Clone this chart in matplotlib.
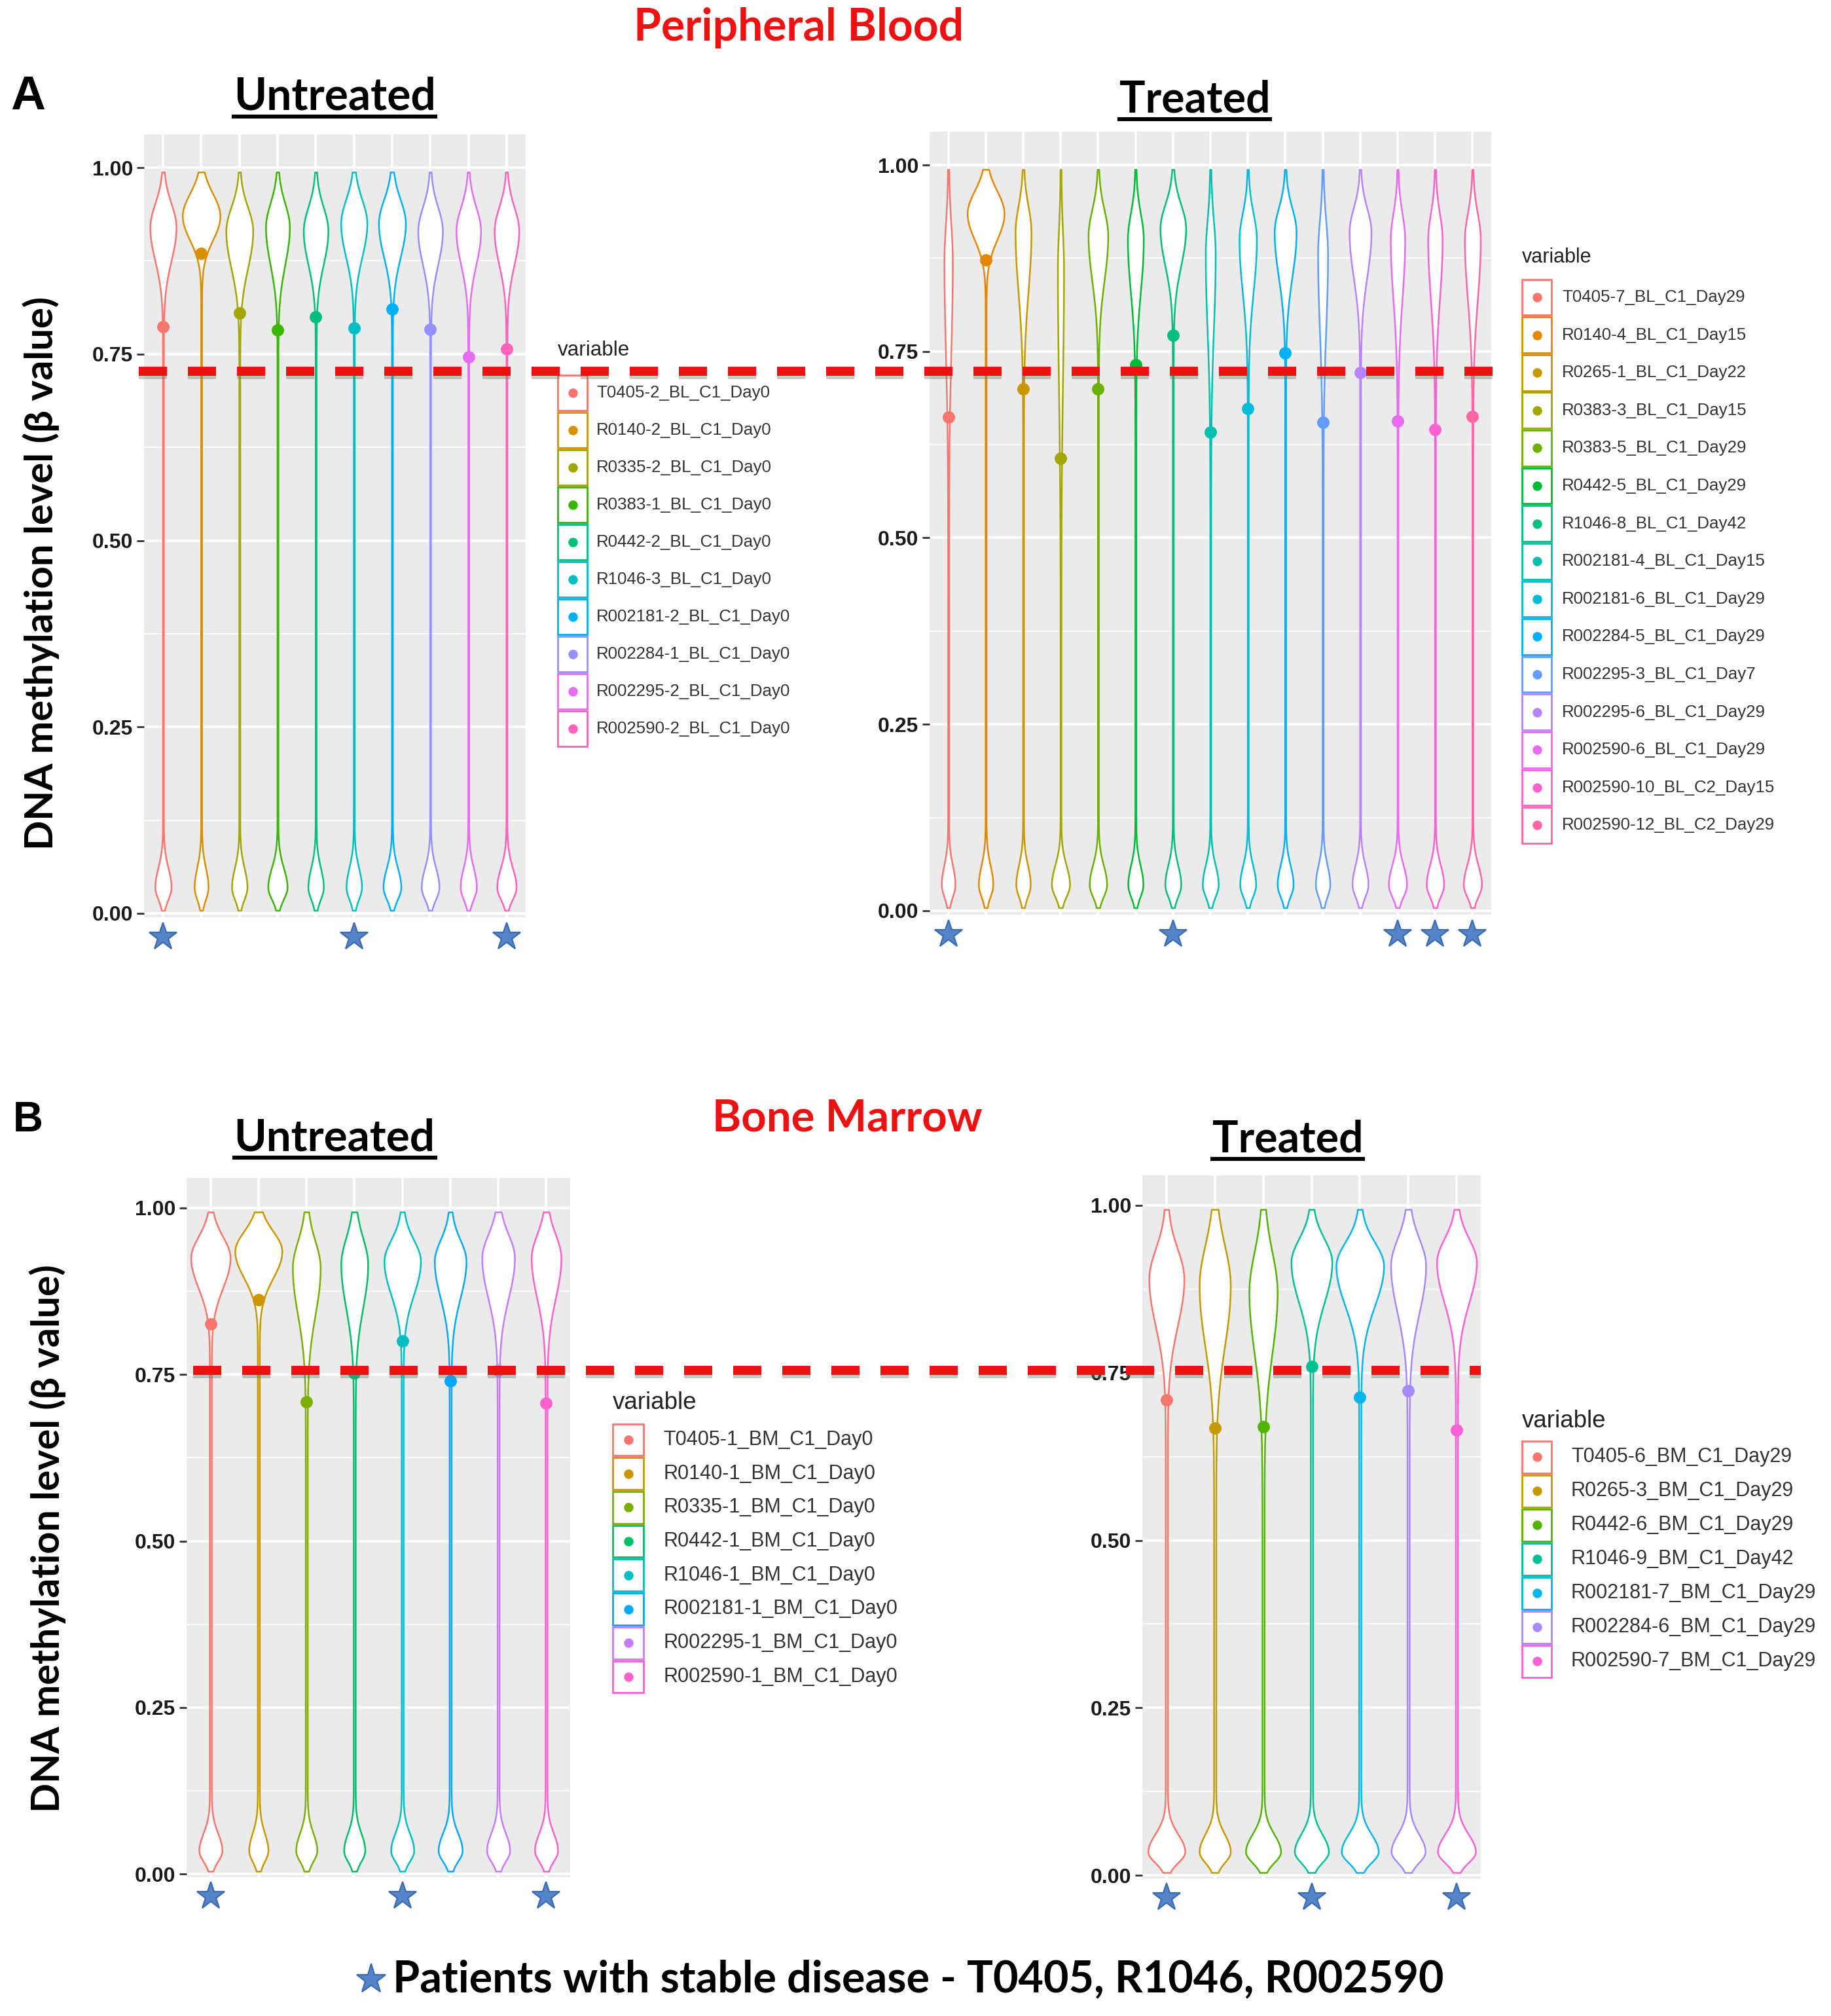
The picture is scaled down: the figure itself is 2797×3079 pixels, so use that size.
import numpy as np
import matplotlib
matplotlib.use("Agg")
import matplotlib.pyplot as plt
from matplotlib.lines import Line2D
from matplotlib.patches import Rectangle

# ---------------- data ----------------
STABLE = ["T0405", "R1046", "R002590"]

A_unt_samples = ["T0405-2_BL_C1_Day0", "R0140-2_BL_C1_Day0", "R0335-2_BL_C1_Day0",
                 "R0383-1_BL_C1_Day0", "R0442-2_BL_C1_Day0", "R1046-3_BL_C1_Day0",
                 "R002181-2_BL_C1_Day0", "R002284-1_BL_C1_Day0", "R002295-2_BL_C1_Day0",
                 "R002590-2_BL_C1_Day0"]
A_unt_mean = [0.787, 0.885, 0.805, 0.782, 0.800, 0.785, 0.810, 0.783, 0.746, 0.757]
A_unt_mode = [0.920, 0.935, 0.915, 0.920, 0.915, 0.925, 0.925, 0.915, 0.915, 0.915]
A_unt_peakw = [0.33, 0.48, 0.34, 0.30, 0.31, 0.33, 0.34, 0.31, 0.31, 0.31]
A_unt_peaksu = [0.032, 0.030, 0.032, 0.032, 0.032, 0.032, 0.032, 0.032, 0.032, 0.032]
A_unt_peaksd = [0.045, 0.032, 0.050, 0.050, 0.045, 0.045, 0.045, 0.045, 0.045, 0.045]
A_unt_bulbw = [0.20, 0.17, 0.19, 0.24, 0.19, 0.19, 0.22, 0.22, 0.20, 0.24]

A_trt_samples = ["T0405-7_BL_C1_Day29", "R0140-4_BL_C1_Day15", "R0265-1_BL_C1_Day22",
                 "R0383-3_BL_C1_Day15", "R0383-5_BL_C1_Day29", "R0442-5_BL_C1_Day29",
                 "R1046-8_BL_C1_Day42", "R002181-4_BL_C1_Day15", "R002181-6_BL_C1_Day29",
                 "R002284-5_BL_C1_Day29", "R002295-3_BL_C1_Day7", "R002295-6_BL_C1_Day29",
                 "R002590-6_BL_C1_Day29", "R002590-10_BL_C2_Day15", "R002590-12_BL_C2_Day29"]
A_trt_mean = [0.662, 0.873, 0.700, 0.607, 0.700, 0.732, 0.772, 0.642, 0.673, 0.748,
              0.655, 0.722, 0.657, 0.645, 0.663]
A_trt_mode = [0.870, 0.935, 0.910, 0.860, 0.905, 0.900, 0.915, 0.880, 0.900, 0.910,
              0.880, 0.910, 0.900, 0.900, 0.900]
A_trt_peakw = [0.10, 0.48, 0.20, 0.07, 0.25, 0.20, 0.33, 0.12, 0.22, 0.28,
               0.12, 0.28, 0.18, 0.18, 0.20]
A_trt_peaksu = [0.050, 0.030, 0.035, 0.050, 0.035, 0.035, 0.032, 0.045, 0.035, 0.032,
                0.045, 0.032, 0.035, 0.035, 0.035]
A_trt_peaksd = [0.120, 0.035, 0.080, 0.150, 0.060, 0.070, 0.050, 0.100, 0.070, 0.060,
                0.100, 0.060, 0.080, 0.080, 0.080]
A_trt_bulbw = [0.17, 0.18, 0.18, 0.23, 0.22, 0.19, 0.20, 0.20, 0.20, 0.20,
               0.18, 0.20, 0.23, 0.22, 0.23]

B_unt_samples = ["T0405-1_BM_C1_Day0", "R0140-1_BM_C1_Day0", "R0335-1_BM_C1_Day0",
                 "R0442-1_BM_C1_Day0", "R1046-1_BM_C1_Day0", "R002181-1_BM_C1_Day0",
                 "R002295-1_BM_C1_Day0", "R002590-1_BM_C1_Day0"]
B_unt_mean = [0.826, 0.862, 0.709, 0.752, 0.800, 0.740, 0.756, 0.707]
B_unt_mode = [0.925, 0.935, 0.910, 0.915, 0.920, 0.920, 0.925, 0.925]
B_unt_peakw = [0.39, 0.47, 0.27, 0.26, 0.36, 0.31, 0.32, 0.29]
B_unt_peaksu = [0.032, 0.030, 0.040, 0.040, 0.032, 0.032, 0.035, 0.035]
B_unt_peaksd = [0.045, 0.040, 0.070, 0.065, 0.050, 0.055, 0.060, 0.060]
B_unt_bulbw = [0.22, 0.18, 0.20, 0.20, 0.22, 0.23, 0.22, 0.22]

B_trt_samples = ["T0405-6_BM_C1_Day29", "R0265-3_BM_C1_Day29", "R0442-6_BM_C1_Day29",
                 "R1046-9_BM_C1_Day42", "R002181-7_BM_C1_Day29", "R002284-6_BM_C1_Day29",
                 "R002590-7_BM_C1_Day29"]
B_trt_mean = [0.710, 0.668, 0.670, 0.760, 0.714, 0.723, 0.665]
B_trt_mode = [0.890, 0.880, 0.870, 0.915, 0.910, 0.910, 0.915]
B_trt_peakw = [0.34, 0.30, 0.27, 0.40, 0.47, 0.34, 0.39]
B_trt_peaksu = [0.045, 0.060, 0.060, 0.035, 0.035, 0.040, 0.035]
B_trt_peaksd = [0.070, 0.090, 0.090, 0.060, 0.060, 0.070, 0.060]
B_trt_bulbw = [0.36, 0.30, 0.34, 0.33, 0.36, 0.33, 0.37]

THR_A = 0.727
THR_B = 0.756
Y_TICKS = [0.00, 0.25, 0.50, 0.75, 1.00]

# ---------------- helpers ----------------
W, H, DPI = 2797, 3079, 200
fig = plt.figure(figsize=(W / DPI, H / DPI), dpi=DPI)
fig.patch.set_facecolor("white")


def fx(px):
    return px / W


def fy(py):
    return 1 - py / H


def hue_pal(n, l=65, c=100):
    hues = np.linspace(15, 375, n + 1)[:-1]
    Xn, Yn, Zn = 95.047, 100.0, 108.883
    un = 4 * Xn / (Xn + 15 * Yn + 3 * Zn)
    vn = 9 * Yn / (Xn + 15 * Yn + 3 * Zn)
    M = np.array([[3.2404542, -1.5371385, -0.4985314],
                  [-0.9692660, 1.8760108, 0.0415560],
                  [0.0556434, -0.2040259, 1.0572252]])
    out = []
    for h in hues:
        hr = np.deg2rad(h)
        u, v = c * np.cos(hr), c * np.sin(hr)
        Y = Yn * ((l + 16) / 116) ** 3
        up = u / (13 * l) + un
        vp = v / (13 * l) + vn
        X = Y * 9 * up / (4 * vp)
        Z = Y * (12 - 3 * up - 20 * vp) / (4 * vp)
        rgb = M @ np.array([X, Y, Z]) / 100
        rgb = np.where(rgb <= 0.0031308, 12.92 * rgb, 1.055 * np.clip(rgb, 0, None) ** (1 / 2.4) - 0.055)
        out.append(tuple(np.clip(rgb, 0, 1)))
    return out


def split_norm(y, m, su, sd):
    return np.where(y >= m, np.exp(-0.5 * ((y - m) / su) ** 2), np.exp(-0.5 * ((y - m) / sd) ** 2))


YLIM = (-0.005, 1.045)


def make_axes(x0, x1, y0px, y1px):
    unit = y0px - y1px
    top = y0px - YLIM[1] * unit
    bot = y0px - YLIM[0] * unit
    ax = fig.add_axes([fx(x0), fy(bot), (x1 - x0) / W, (bot - top) / H])
    return ax


def draw_panel(ax, samples, mean, mode, peakw, peaksu, peaksd, bulbw, neck, star_y):
    n = len(samples)
    cols = hue_pal(n)
    ax.set_facecolor("#EBEBEB")
    for s in ax.spines.values():
        s.set_visible(False)
    ax.set_xlim(-0.5, n - 0.5)
    ax.set_ylim(*YLIM)
    ax.set_xticks(range(n))
    ax.set_xticklabels([])
    ax.tick_params(axis="x", length=0)
    ax.set_yticks(Y_TICKS)
    ax.set_yticks([0.125, 0.375, 0.625, 0.875], minor=True)
    ax.set_yticklabels(["%.2f" % t for t in Y_TICKS], fontweight="bold",
                       family="Liberation Sans", fontsize=11.5, color="#1a1a1a")
    ax.tick_params(axis="y", which="major", length=4, width=1.0, color="#333333", pad=2)
    ax.tick_params(axis="y", which="minor", length=0)
    ax.grid(True, which="major", color="white", lw=1.3)
    ax.grid(True, which="minor", axis="y", color="white", lw=0.6)
    ax.set_axisbelow(True)
    y = np.linspace(0.004, 0.994, 700)
    for i in range(n):
        w = (peakw[i] * split_norm(y, mode[i], peaksu[i], peaksd[i])
             + bulbw[i] * split_norm(y, 0.035, 0.026, 0.016) + neck)
        ax.fill_betweenx(y, i - w, i + w, facecolor="white", edgecolor=cols[i],
                         lw=0.9, zorder=3)
        ax.plot([i], [mean[i]], "o", color=cols[i], ms=5.8, zorder=4)
    xs = [i for i, s in enumerate(samples) if s.split("-")[0] in STABLE]
    ax.plot(xs, [star_y] * len(xs), "*", ms=16, color="#5585c8", mec="#3d6bb0",
            mew=0.8, clip_on=False, zorder=5)
    return cols


def draw_legend(samples, cols, x_key, y_title, y_first, step, key_w, fs_title, fs_label, text_x):
    fig.text(fx(x_key), fy(y_title), "variable", fontsize=fs_title, va="center", ha="left",
             color="#222222", family="Liberation Sans")
    key_h = step - 3
    for k, (lab, c) in enumerate(zip(samples, cols)):
        yc = y_first + k * step
        fig.add_artist(Rectangle((fx(x_key), fy(yc + key_h / 2)), key_w / W, key_h / H,
                                 transform=fig.transFigure, facecolor="white",
                                 edgecolor=c, lw=1.0))
        fig.add_artist(Line2D([fx(x_key + key_w / 2)], [fy(yc)], marker="o", ms=4.2,
                              color=c, ls="", transform=fig.transFigure))
        fig.text(fx(text_x), fy(yc), lab, fontsize=fs_label, va="center", ha="left",
                 color="#333333", family="Liberation Sans")


renderer = fig.canvas.get_renderer()


def fit_text(x, y, s, target, rotation=0, ha="center", **kw):
    t = fig.text(fx(x), fy(y), s, fontsize=20, rotation=rotation, ha=ha, va="center", **kw)
    bb = t.get_window_extent(renderer)
    size = bb.height if rotation == 90 else bb.width
    t.set_fontsize(20 * target / size)
    return t


def underline(t):
    bb = t.get_window_extent(renderer)
    yl = bb.y0 + 2
    fig.add_artist(Line2D([bb.x0 / W, bb.x1 / W], [yl / H, yl / H], color="black", lw=2.2,
                          transform=fig.transFigure))


# ---------------- panels ----------------
axAL = make_axes(220, 803, 1395, 256)
colsAL = draw_panel(axAL, A_unt_samples, A_unt_mean, A_unt_mode, A_unt_peakw, A_unt_peaksu,
                    A_unt_peaksd, A_unt_bulbw, 0.012, -0.032)
axAR = make_axes(1420, 2278, 1391, 252)
colsAR = draw_panel(axAR, A_trt_samples, A_trt_mean, A_trt_mode, A_trt_peakw, A_trt_peaksu,
                    A_trt_peaksd, A_trt_bulbw, 0.012, -0.032)
axBL = make_axes(285, 871, 2862, 1845)
colsBL = draw_panel(axBL, B_unt_samples, B_unt_mean, B_unt_mode, B_unt_peakw, B_unt_peaksu,
                    B_unt_peaksd, B_unt_bulbw, 0.02, -0.033)
axBR = make_axes(1745, 2262, 2864, 1841)
colsBR = draw_panel(axBR, B_trt_samples, B_trt_mean, B_trt_mode, B_trt_peakw, B_trt_peaksu,
                    B_trt_peaksd, B_trt_bulbw, 0.022, -0.033)

draw_legend(A_unt_samples, colsAL, 852, 535, 600, 57, 45, 11.3, 9.3, 911)
draw_legend(A_trt_samples, colsAR, 2325, 393, 454, 57.6, 45, 11.0, 9.3, 2386)
draw_legend(B_unt_samples, colsBL, 936, 2142, 2199, 51.7, 47, 13.2, 11.0, 1013)
draw_legend(B_trt_samples, colsBR, 2325, 2170, 2225, 52, 45, 13.2, 11.0, 2400)


# threshold dashed lines
def thr_line(ax, thr, x0, x1):
    d = ax.transData.transform((0, thr))
    yf = fig.transFigure.inverted().transform(d)[1]
    fig.add_artist(Line2D([fx(x0), fx(x1)], [yf - 5 / H, yf - 5 / H], color="#777777",
                          alpha=0.4, lw=5, dashes=(3.1, 2.3), transform=fig.transFigure,
                          zorder=9))
    fig.add_artist(Line2D([fx(x0), fx(x1)], [yf, yf], color="#ee1111", lw=5,
                          dashes=(3.1, 2.3), transform=fig.transFigure, zorder=10))


thr_line(axAL, THR_A, 212, 2305)
thr_line(axBL, THR_B, 295, 2262)

# ---------------- texts ----------------
calibri = ["Lato", "DejaVu Sans"]
fit_text(1220, 43, "Peripheral Blood", 504, family=calibri, fontweight="bold", color="#ee1111")
fit_text(1294, 1709, "Bone Marrow", 413, family=calibri, fontweight="bold", color="#ee1111")
fit_text(16, 148, "A", 53, ha="left", family="Liberation Sans", fontweight="bold", color="black")
fit_text(20, 1711, "B", 46, ha="left", family="Liberation Sans", fontweight="bold", color="black")
for (x, y, s, wd) in [(511, 148, "Untreated", 309), (1825, 153, "Treated", 230),
                      (511, 1739, "Untreated", 307), (1967, 1741, "Treated", 230)]:
    t = fit_text(x, y, s, wd, family=calibri, fontweight="bold", color="black")
    underline(t)
fit_text(63, 875, "DNA methylation level (\u03b2 value)", 846, rotation=90,
         family=calibri, fontweight="bold", color="black")
fit_text(73, 2350, "DNA methylation level (\u03b2 value)", 836, rotation=90,
         family=calibri, fontweight="bold", color="black")
fit_text(600, 3023, "Patients with stable disease - T0405, R1046, R002590", 1603, ha="left",
         family=calibri, fontweight="bold", color="black")
fig.add_artist(Line2D([fx(567)], [fy(3023)], marker="*", ms=17, color="#5585c8", mec="#3d6bb0",
                      mew=0.8, ls="", transform=fig.transFigure))

fig.savefig("out.png", dpi=DPI, facecolor="white")
